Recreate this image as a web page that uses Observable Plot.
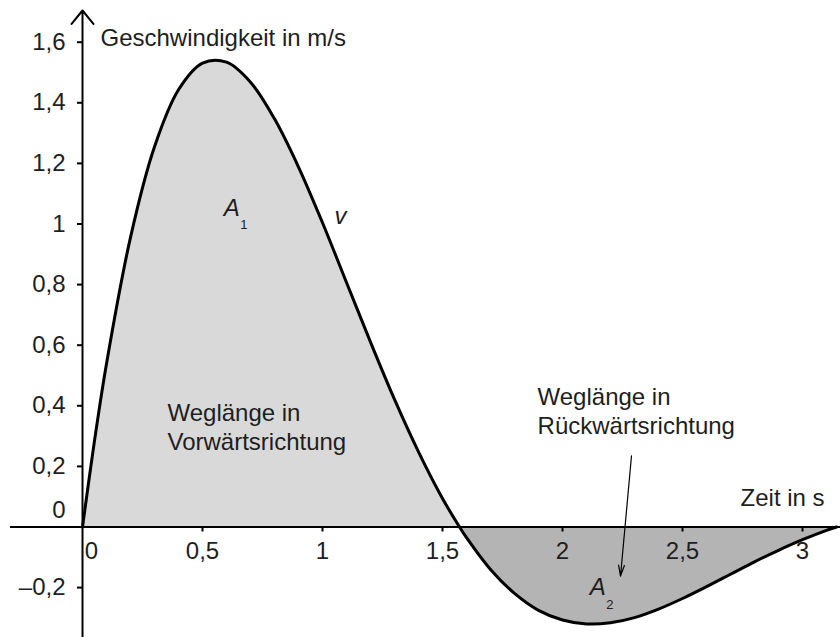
<!DOCTYPE html>
<html>
<head>
<meta charset="utf-8">
<script src="https://cdn.jsdelivr.net/npm/d3@7"></script>
<script src="https://cdn.jsdelivr.net/npm/@observablehq/plot@0.6"></script>
<style>
  body { margin: 0; background: #fff; }
  svg { display: block; }
</style>
</head>
<body>
<div id="chart"></div>
<script>
// Time (s) and speed (m/s)
const times  = [0, 0.05, 0.1, 0.2, 0.3, 0.4, 0.5, 0.6, 0.7, 0.8, 0.9, 1.0, 1.1, 1.2, 1.3, 1.4, 1.5, 1.571, 1.6, 1.7, 1.8, 1.9, 2.0, 2.1, 2.2, 2.3, 2.4, 2.5, 2.6, 2.7, 2.8, 2.9, 3.0, 3.1, 3.142];
const speeds = [0, 0.285, 0.539, 0.956, 1.255, 1.443, 1.531, 1.534, 1.468, 1.347, 1.188, 1.004, 0.807, 0.610, 0.421, 0.248, 0.094, 0, -0.035, -0.140, -0.219, -0.275, -0.307, -0.320, -0.316, -0.299, -0.271, -0.236, -0.197, -0.156, -0.115, -0.077, -0.042, -0.011, 0];
const zeroTime = 1.571;

const xTicks = [0, 0.5, 1, 1.5, 2, 2.5, 3];
const xTickLabels = ["0", "0,5", "1", "1,5", "2", "2,5", "3"];
const yTicks = [-0.2, 0, 0.2, 0.4, 0.6, 0.8, 1, 1.2, 1.4, 1.6];
const yTickLabels = ["\u20130,2", "0", "0,2", "0,4", "0,6", "0,8", "1", "1,2", "1,4", "1,6"];

// Annotation texts (positions in data units)
const labelTexts = ["Geschwindigkeit in m/s", "Weglänge in\nVorwärtsrichtung", "Weglänge in\nRückwärtsrichtung", "Zeit in s"];
const labelX = [0.075, 0.354, 1.896, 2.742];
const labelY = [1.655, 0.4175, 0.470, 0.137];
const italicTexts = ["A", "A", "v"];
const italicX = [0.588, 2.113, 1.075];
const italicY = [1.051, -0.200, 1.027];
const italicAnchor = ["start", "start", "middle"];
const subTexts = ["1", "2"];
const subX = [0.672, 2.197];
const subY = [0.998, -0.256];

const pts = times.map((t, i) => ({t, v: speeds[i]}));
const pos = pts.filter(d => d.t <= zeroTime);
const neg = pts.filter(d => d.t >= zeroTime);
const labels = labelTexts.map((s, i) => ({s, x: labelX[i], y: labelY[i]}));
const italics = italicTexts.map((s, i) => ({s, x: italicX[i], y: italicY[i], a: italicAnchor[i]}));
const subs = subTexts.map((s, i) => ({s, x: subX[i], y: subY[i]}));
const yt = yTicks.map((v, i) => ({v, s: yTickLabels[i]}));
const xt = xTicks.map((v, i) => ({v, s: xTickLabels[i]}));

const ink = "#1e1e1e";
const font = "Liberation Sans, Arial, Helvetica, sans-serif";

const chart = Plot.plot({
  width: 840,
  height: 637,
  margin: 0,
  x: {domain: [-0.3417, 3.1583], axis: null},
  y: {domain: [-0.3647, 1.7376], axis: null},
  style: {fontFamily: font, color: ink, background: "#fff"},
  marks: [
    Plot.areaY(pos, {x: "t", y1: 0, y2: "v", fill: "#d9d9d9", curve: "catmull-rom"}),
    Plot.areaY(neg, {x: "t", y1: 0, y2: "v", fill: "#b4b4b4", curve: "catmull-rom"}),
    // axes
    Plot.ruleY([0], {x1: -0.3, x2: 3.1583, stroke: "black", strokeWidth: 2}),
    Plot.arrow([{x1: 0, y1: -0.3647, x2: 0, y2: 1.7046}], {x1: "x1", y1: "y1", x2: "x2", y2: "y2", stroke: "black", strokeWidth: 2, headLength: 13, headAngle: 78}),
    Plot.ruleY(yTicks.filter(d => d !== 0), {y: d => d, x1: -0.021, x2: 0, stroke: "black", strokeWidth: 2}),
    Plot.ruleX(xTicks.filter(d => d !== 0), {x: d => d, y1: 0, y2: -0.0165, stroke: "black", strokeWidth: 2}),
    // curve
    Plot.line(pts, {x: "t", y: "v", stroke: "black", strokeWidth: 3, curve: "catmull-rom"}),
    // tick labels
    Plot.text(yt.filter(d => d.v !== 0), {x: 0, y: "v", text: "s", textAnchor: "end", dx: -17, fontSize: 24, fill: ink}),
    Plot.text(yt.filter(d => d.v === 0), {x: 0, y: "v", text: "s", textAnchor: "end", dx: -17, dy: -16.5, fontSize: 24, fill: ink}),
    Plot.text(xt.filter(d => d.v !== 0), {x: "v", y: 0, text: "s", textAnchor: "middle", dy: 24, fontSize: 24, fill: ink}),
    Plot.text(xt.filter(d => d.v === 0), {x: "v", y: 0, text: "s", textAnchor: "middle", dx: 9, dy: 24, fontSize: 24, fill: ink}),
    // annotations
    Plot.text(labels, {x: "x", y: "y", text: "s", textAnchor: "start", lineAnchor: "top", lineHeight: 1.2, fontSize: 24, fill: ink}),
    Plot.text(italics.filter(d => d.a === "start"), {x: "x", y: "y", text: "s", textAnchor: "start", fontStyle: "italic", fontSize: 24, fill: ink}),
    Plot.text(italics.filter(d => d.a === "middle"), {x: "x", y: "y", text: "s", textAnchor: "middle", fontStyle: "italic", fontSize: 24, fill: ink}),
    Plot.text(subs, {x: "x", y: "y", text: "s", textAnchor: "middle", fontSize: 13, fill: ink}),
    Plot.arrow([{x1: 2.2875, y1: 0.235, x2: 2.2417, y2: -0.162}], {x1: "x1", y1: "y1", x2: "x2", y2: "y2", stroke: "black", strokeWidth: 1.2, headLength: 14, headAngle: 30})
  ]
});
document.getElementById("chart").appendChild(chart);
</script>
</body>
</html>
